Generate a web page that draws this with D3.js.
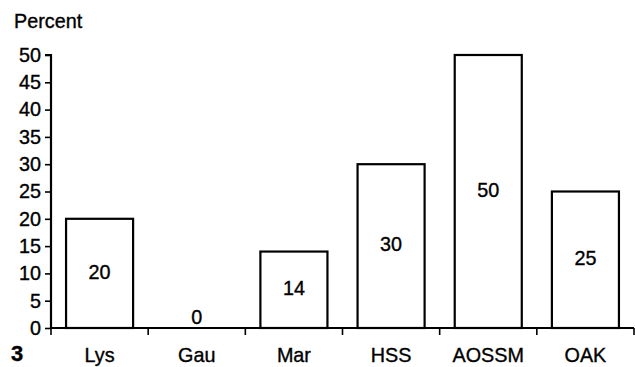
<!DOCTYPE html>
<html><head><meta charset="utf-8">
<script src="https://cdn.jsdelivr.net/npm/d3@7"></script>
<style>body{margin:0;background:#fff}svg{display:block}text{font-family:"Liberation Sans",Arial,Helvetica,sans-serif;fill:#000;stroke:#000;stroke-width:0.35px}</style>
</head><body>
<svg id="c" width="635" height="367"></svg>
<script>
const categories = ["Lys","Gau","Mar","HSS","AOSSM","OAK"];
const values = [20,0,14,30,50,25];
const yTicks = [0,5,10,15,20,25,30,35,40,45,50];
const yLabel = "Percent";
const figNum = "3";

(function(){
const svg = d3.select("#c");
const mLeft = 51, mRight = 634, mTop = 55, mBottom = 328;
const x = d3.scaleBand().domain(categories).range([mLeft, mRight]).paddingInner(0.31).paddingOuter(0.155);
const y = d3.scaleLinear().domain([0,50]).range([mBottom, mTop]);
const fs = 19.8;

svg.selectAll("rect.bar").data(categories.map((c,i)=>({c,v:values[i]})).filter(d=>d.v>0))
  .join("rect").attr("class","bar")
  .attr("x",d=>x(d.c)).attr("width",x.bandwidth())
  .attr("y",d=>y(d.v)).attr("height",d=>y(0)-y(d.v))
  .attr("fill","#fff").attr("stroke","#000").attr("stroke-width",2.2);

svg.selectAll("text.val").data(categories.map((c,i)=>({c,v:values[i]})))
  .join("text").attr("class","val")
  .attr("x",d=>x(d.c)+x.bandwidth()/2)
  .attr("y",d=>d.v>0 ? (y(d.v)+y(0))/2 - 2 : y(0)-11)
  .attr("dy","0.36em").attr("text-anchor","middle").attr("font-size",fs)
  .text(d=>d.v);

const ya = svg.append("g").attr("transform",`translate(${mLeft},0)`)
  .call(d3.axisLeft(y).tickValues(yTicks).tickSize(6).tickPadding(4));
ya.select(".domain").attr("stroke-width",2.2).attr("d",`M-6,${mTop}H0V${mBottom}`);
ya.selectAll(".tick line").attr("stroke-width",1.6);
ya.selectAll("text").attr("font-size",fs).attr("font-family","Liberation Sans, Arial, sans-serif");

const bounds = d3.range(categories.length+1).map(i=>mLeft + i*(mRight-mLeft)/categories.length);
const xg = svg.append("g");
xg.append("line").attr("x1",mLeft).attr("x2",mRight).attr("y1",mBottom).attr("y2",mBottom).attr("stroke","#000").attr("stroke-width",2.2);
xg.selectAll("line.t").data(bounds).join("line").attr("class","t")
  .attr("x1",d=>d).attr("x2",d=>d).attr("y1",mBottom).attr("y2",mBottom+7).attr("stroke","#000").attr("stroke-width",1.6);
xg.selectAll("text").data(categories).join("text")
  .attr("x",d=>x(d)+x.bandwidth()/2).attr("y",355).attr("dy","0.36em")
  .attr("text-anchor","middle").attr("font-size",fs).text(d=>d);

svg.append("text").attr("x",11).attr("y",28).attr("font-size",fs).attr("x",14).text(yLabel);
svg.append("text").attr("x",11).attr("y",361).attr("font-size",22).attr("font-weight","bold").text(figNum);
})();
</script>
</body></html>
